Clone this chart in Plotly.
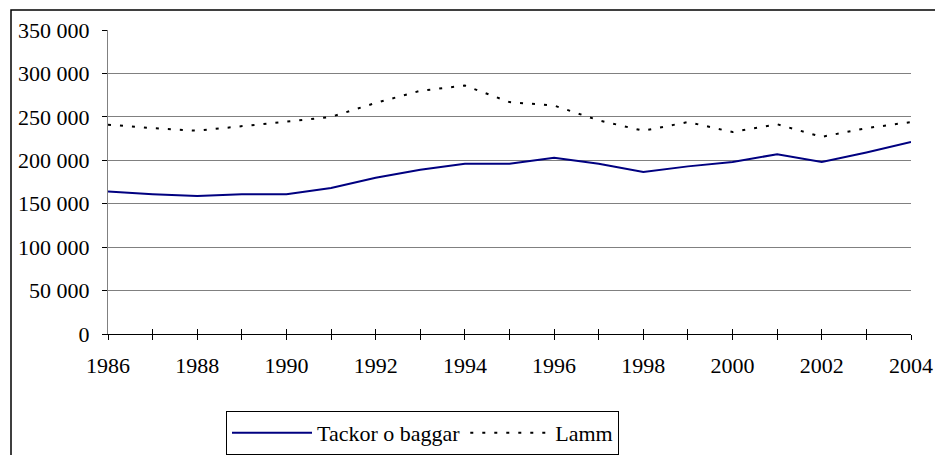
import plotly.graph_objects as go

years = list(range(1986, 2005))
tackor_o_baggar = [164000, 161000, 159000, 161000, 161000, 168000, 180000, 189000, 196000,
                   196000, 203000, 196000, 186500, 193000, 198000, 207000, 198000, 209000, 221000]
lamm = [241000, 237000, 234000, 239000, 244500, 250000, 266000, 280000, 286000,
        267000, 263000, 246000, 234000, 244000, 232500, 241500, 227000, 237000, 244000]
x_tick_labels = [str(y) if (y - 1986) % 2 == 0 else "" for y in years]
y_tick_vals = [0, 50000, 100000, 150000, 200000, 250000, 300000, 350000]
y_tick_labels = ["0", "50 000", "100 000", "150 000", "200 000", "250 000", "300 000", "350 000"]

W, H = 935, 455
L, R, T, B = 108, 24, 30, 121
pw, ph = W - L - R, H - T - B

def px(x):
    return (x - L) / pw

def py(y):
    return (H - B - y) / ph

FONT = "Liberation Serif, Times New Roman, DejaVu Serif, serif"
FS = 22

fig = go.Figure()
fig.add_trace(go.Scatter(x=years, y=tackor_o_baggar, mode="lines", name="Tackor o baggar",
                         line=dict(color="#000080", width=2)))
fig.add_trace(go.Scatter(x=years, y=lamm, mode="lines", name="Lamm",
                         line=dict(color="#000000", width=2, dash="3px,9px")))
# invisible trace to make the overlay axis render
fig.add_trace(go.Scatter(x=[1986], y=[0], xaxis="x2", mode="none", showlegend=False, hoverinfo="skip"))

fig.update_layout(
    width=W, height=H,
    margin=dict(l=L, r=R, t=T, b=B, autoexpand=False),
    paper_bgcolor="white", plot_bgcolor="white",
    font=dict(family=FONT, size=FS, color="black"),
    showlegend=True,
    legend=dict(orientation="h", x=px(226), y=py(411), xanchor="left", yanchor="top",
                bordercolor="black", borderwidth=1, bgcolor="white", itemwidth=80,
                font=dict(family=FONT, size=FS), tracegroupgap=0),
    xaxis=dict(range=[1986, 2004], tickmode="array", tickvals=years, ticktext=x_tick_labels,
               showgrid=False, zeroline=False, showline=True, linecolor="black", linewidth=1,
               ticks="outside", ticklen=5, tickcolor="black", tickwidth=1, automargin=False,
               tickfont=dict(family=FONT, size=FS), ticklabelstandoff=7),
    xaxis2=dict(range=[1986, 2004], overlaying="x", tickmode="array", tickvals=years,
                showticklabels=False, showgrid=False, zeroline=False, showline=False,
                ticks="inside", ticklen=5, tickcolor="black", tickwidth=1, side="bottom",
                automargin=False),
    yaxis=dict(range=[0, 350000], tickmode="array", tickvals=y_tick_vals, ticktext=y_tick_labels,
               showgrid=True, gridcolor="#808080", gridwidth=1, zeroline=False,
               showline=True, linecolor="#808080", linewidth=1, automargin=False,
               ticks="outside", ticklen=5, tickcolor="black", tickwidth=1,
               tickfont=dict(family=FONT, size=FS), ticklabelstandoff=8),
)

fig.add_shape(type="rect", xref="paper", yref="paper",
              x0=px(11), x1=px(W + 20), y0=py(H + 20), y1=py(10),
              line=dict(color="black", width=1.5), fillcolor="rgba(0,0,0,0)", layer="below")

fig.write_html("out.html", config={"displayModeBar": False},
               post_script="document.body.style.margin='0';document.body.style.overflow='hidden';")
